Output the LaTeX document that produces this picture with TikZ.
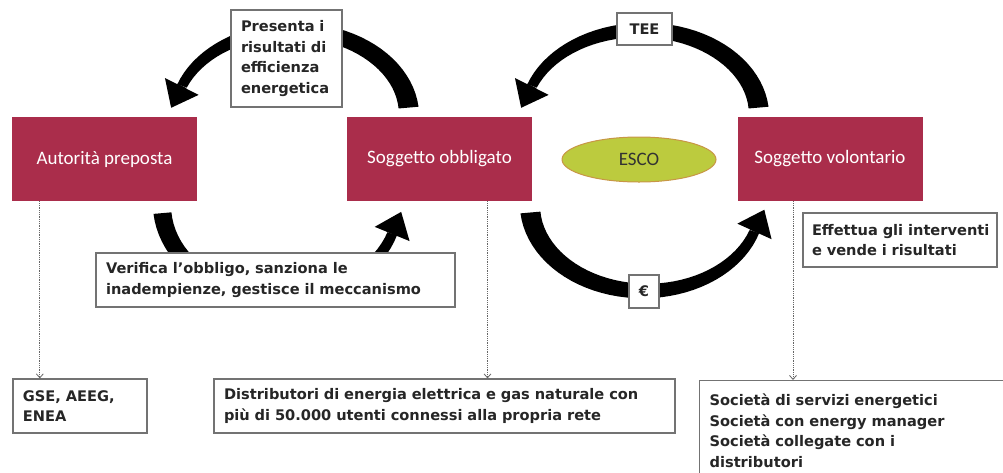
\documentclass[tikz,border=0pt]{standalone}
\usepackage{fontspec}
\setmainfont{DejaVu Sans}
\newfontfamily\actorfont{Carlito}
\usetikzlibrary{arrows.meta,shapes.geometric}

\definecolor{actorred}{RGB}{170,45,75}
\definecolor{escofill}{RGB}{188,203,62}
\definecolor{escoline}{RGB}{200,150,70}

\begin{document}
\begin{tikzpicture}[x=1pt,y=-1pt,
  actor/.style={fill=actorred, text=white, font=\actorfont\fontsize{19}{22}\selectfont,
    minimum width=185pt, minimum height=84pt, inner sep=0pt},
  note/.style={draw=black!55, line width=1.2pt, fill=white, text=black!85,
    font=\bfseries\fontsize{14.6}{20.5}\selectfont, align=left, inner xsep=10pt, inner ysep=0pt},
  link/.style={densely dotted, black!60, line width=0.8pt, -{Straight Barb[length=4pt,width=7pt]}},
  flow/.style={line width=10pt, -{Triangle[width=36pt,length=24pt]}}]
  \useasboundingbox (0,0) rectangle (1003,472);
  \clip (0,0) rectangle (1003,472);
  \coordinate (c1) at (292,115);
  \coordinate (c2) at (642,115);
  \coordinate (c3) at (280,205);
  \coordinate (c4) at (645,205);
  \fill[shift={(c1)}] plot[domain=-5:-160,samples=40] ({(127+5*(\x+5)/155)*cos(\x)},{(95+5*(\x+5)/155)*sin(\x)})
    -- plot[domain=-160:-5,samples=40] ({(107-5*(\x+5)/155)*cos(\x)},{(75-5*(\x+5)/155)*sin(\x)}) -- cycle;
  \draw[flow, shift={(c1)}] ({117*cos(-160)},{85*sin(-160)}) -- ++(-11,22);
  \fill[shift={(c2)}] plot[domain=-5:-160,samples=40] ({(127+5*(\x+5)/155)*cos(\x)},{(95+5*(\x+5)/155)*sin(\x)})
    -- plot[domain=-160:-5,samples=40] ({(107-5*(\x+5)/155)*cos(\x)},{(75-5*(\x+5)/155)*sin(\x)}) -- cycle;
  \draw[flow, shift={(c2)}] ({117*cos(-160)},{85*sin(-160)}) -- ++(-11,22);
  \fill[shift={(c3)}] plot[domain=175:18,samples=40] ({(127-4*(175-\x)/157)*cos(\x)},{(102-4*(175-\x)/157)*sin(\x)})
    -- plot[domain=18:175,samples=40] ({(109+4*(175-\x)/157)*cos(\x)},{(84+4*(175-\x)/157)*sin(\x)}) -- cycle;
  \draw[flow, shift={(c3)}] ({118*cos(18)},{93*sin(18)}) -- ++(9,-22);
  \fill[shift={(c4)}] plot[domain=175:18,samples=40] ({(125-5*(175-\x)/157)*cos(\x)},{(96-5*(175-\x)/157)*sin(\x)})
    -- plot[domain=18:175,samples=40] ({(105+5*(175-\x)/157)*cos(\x)},{(76+5*(175-\x)/157)*sin(\x)}) -- cycle;
  \draw[flow, shift={(c4)}] ({115*cos(18)},{86*sin(18)}) -- ++(10,-22);

  \node[actor] (auth) at (104.5,159) {Autorità preposta};
  \node[actor] (obbl) at (439.5,159) {Soggetto obbligato};
  \node[actor] (volo) at (830,159) {Soggetto volontario};
  \node[ellipse, draw=escoline, line width=1pt, fill=escofill, minimum width=154pt, minimum height=45pt,
    font=\actorfont\fontsize{19}{22}\selectfont, text=black!80] (esco) at (639,159.5) {ESCO};

  \node[note, text width=91pt, minimum height=97pt] (pres) at (286.5,58.5) {Presenta i\\risultati di\\efficienza\\energetica};
  \node[note, inner xsep=0pt, minimum width=55pt, minimum height=32pt] (tee) at (644.5,29) {TEE};
  \node[note, inner xsep=0pt, minimum width=30pt, minimum height=33pt] (euro) at (644,291.5) {€};
  \node[note, text width=339pt, minimum height=54pt] (verif) at (275.5,280) {Verifica l'obbligo, sanziona le\\inadempienze, gestisce il meccanismo};
  \node[note, text width=176pt, inner xsep=9pt, minimum height=54pt] (eff) at (900,240) {\mbox{Effettua gli interventi}\\e vende i risultati};
  \node[note, text width=114pt, minimum height=54pt] (gse) at (80,406) {GSE, AEEG,\\ENEA};
  \node[note, text width=441pt, minimum height=54pt] (distr) at (444.5,406) {Distributori di energia elettrica e gas naturale con\\più di 50.000 utenti connessi alla propria rete};
  \node[note, text width=291pt, minimum height=100pt, anchor=north west, inner ysep=6pt] (soc) at (699,380)
    {Società di servizi energetici\\Società con energy manager\\Società collegate con i\\distributori};

  \draw[link] ([xshift=28pt]auth.south west) -- ([xshift=28pt]auth.south west |- gse.north);
  \draw[link] ([xshift=48pt]obbl.south) -- ([xshift=48pt]obbl.south |- distr.north);
  \draw[link] ([xshift=-37pt]volo.south) -- ([xshift=-37pt]volo.south |- soc.north);
\end{tikzpicture}
\end{document}
